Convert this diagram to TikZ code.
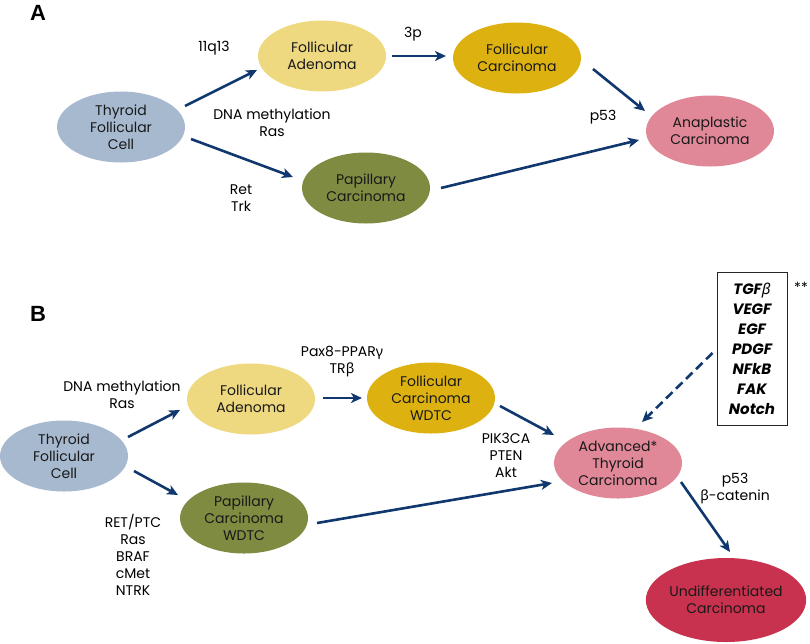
\documentclass[tikz,border=0pt]{standalone}
\usepackage{fontspec}
\setmainfont{Poppins}
\newfontfamily\greek{Noto Sans}
\newfontfamily\helv{Liberation Sans}
\usetikzlibrary{shapes.geometric,arrows.meta,calc}
\definecolor{cthy}{HTML}{A7B9CF}
\definecolor{cade}{HTML}{EED880}
\definecolor{cfol}{HTML}{DDB210}
\definecolor{cpap}{HTML}{7E8B40}
\definecolor{cpink}{HTML}{E08798}
\definecolor{cund}{HTML}{C8324E}
\definecolor{cnavy}{HTML}{10386E}
\tikzset{
  cell/.style={ellipse, inner sep=0pt, minimum width=128pt, minimum height=71pt,
    align=center, font=\fontsize{14}{17}\selectfont, text=black!90},
  lbl/.style={align=center, font=\fontsize{14}{17}\selectfont, inner sep=0pt},
  panel/.style={font=\helv\bfseries\fontsize{22}{22}\selectfont, inner sep=0pt},
  arr/.style={draw=cnavy, line width=2.6pt, -{Stealth[length=11pt,width=10pt,inset=3pt]}},
  darr/.style={arr, dash pattern=on 9pt off 5pt},
  boxstyle/.style={draw=black!85, line width=1pt, minimum width=70pt, minimum height=153pt,
    align=center, inner sep=0pt, font=\bfseries\itshape\fontsize{15}{20}\selectfont}
}
\begin{document}
\begin{tikzpicture}[x=1pt,y=-1pt]
\useasboundingbox (0,0) rectangle (810,643);
% Panel A
\node[panel] (pA) at (38,13) {A};
\node[cell, fill=cthy] (thA) at (121,127) {Thyroid\\Follicular\\Cell};
\node[cell, fill=cade] (adA) at (322,56) {Follicular\\Adenoma};
\node[cell, fill=cfol] (fcA) at (517,58) {Follicular\\Carcinoma};
\node[cell, fill=cpink] (anA) at (710,131) {Anaplastic\\Carcinoma};
\node[cell, fill=cpap] (paA) at (366,188) {Papillary\\Carcinoma};
\node[lbl] (l11) at (214,48) {11q13};
\node[lbl] (ldna) at (272,123) {DNA methylation\\Ras};
\node[lbl] (l3p) at (413,34) {3p};
\node[lbl] (lp53) at (603,117) {p53};
\node[lbl] (lret) at (241,198) {Ret\\Trk};
\draw[arr] ($(thA)+(64,-21)$) -- ($(adA)+(-65,14)$);
\draw[arr] ($(thA)+(70,12)$) -- ($(paA)+(-73,-11)$);
\draw[arr] ($(adA)+(70,0)$) -- ($(fcA)+(-71,-2)$);
\draw[arr] ($(fcA)+(76,11)$) -- ($(anA)+(-65,-20)$);
\draw[arr] ($(paA)+(75,0)$) -- ($(anA)+(-71,9)$);
% Panel B
\node[panel] (pB) at (38,314) {B};
\node[cell, fill=cthy] (thB) at (64,456) {Thyroid\\Follicular\\Cell};
\node[cell, fill=cade] (adB) at (251,399) {Follicular\\Adenoma};
\node[cell, fill=cfol] (fcB) at (431,398) {Follicular\\Carcinoma\\WDTC};
\node[cell, fill=cpap] (paB) at (244,518) {Papillary\\Carcinoma\\WDTC};
\node[cell, fill=cpink] (avB) at (618,463) {Advanced*\\Thyroid\\Carcinoma};
\node[cell, fill=cund, minimum width=142pt, minimum height=84pt] (unB) at (726,600) {Undifferentiated\\Carcinoma};
\node[boxstyle] (box) at (752,348.5) {TGF{\greek\mdseries β}\\VEGF\\EGF\\PDGF\\NFkB\\FAK\\Notch};
\node[lbl] (star) at (801,287) {**};
\node[lbl] (ldnaB) at (122,395) {DNA methylation\\Ras};
\node[lbl] (lpax) at (342,362) {Pax8-PPAR{\greek γ}\\TR{\greek β}};
\node[lbl] (lret2) at (133,555) {RET/PTC\\Ras\\BRAF\\cMet\\NTRK};
\node[lbl] (lpik) at (506,455) {PIK3CA\\PTEN\\Akt};
\node[lbl] (lp53B) at (735,489) {p53\\{\greek β}-catenin};
\draw[arr] ($(thB)+(64,-19)$) -- ($(adB)+(-71,11)$);
\draw[arr] ($(thB)+(70,15)$) -- ($(paB)+(-66,-23)$);
\draw[arr] ($(adB)+(72,-1)$) -- ($(fcB)+(-69,0)$);
\draw[arr] ($(fcB)+(69,8)$) -- ($(avB)+(-64,-28)$);
\draw[arr] ($(paB)+(73,5)$) -- ($(avB)+(-66,20)$);
\draw[arr] ($(avB)+(63,19)$) -- ($(unB)+(4,-48)$);
\draw[darr] ($(box.west)+(-4,4.5)$) -- ($(avB)+(24,-41)$);
\end{tikzpicture}
\end{document}
